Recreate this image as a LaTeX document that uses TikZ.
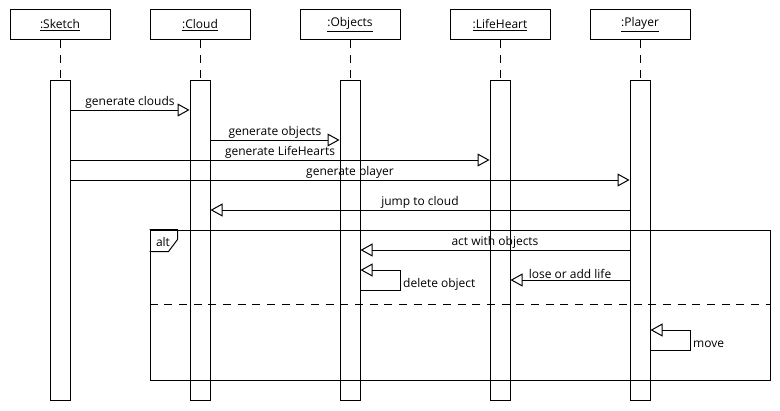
\documentclass[tikz,border=0pt]{standalone}
\usepackage{fontspec}
\setmainfont{Open Sans}
\usetikzlibrary{arrows.meta}

\begin{document}
\begin{tikzpicture}[x=0.75pt,y=-0.75pt,line width=0.75pt,
    font=\fontsize{9}{11}\selectfont,
    head/.style={draw,minimum width=75pt,minimum height=22.5pt,inner sep=0pt},
    bar/.style={draw,minimum width=15pt,minimum height=240pt,inner sep=0pt},
    life/.style={dash pattern=on 6pt off 5pt},
    msg/.style={-{Triangle[open,length=9pt,width=9.75pt]}},
    lbl/.style={midway,above,inner sep=0.5pt}]
    \useasboundingbox (0,0) rectangle (780,410);
    % Objects
    \node[head] (sketch) at (60,25) {\underline{:Sketch}};
    \node[head] (cloud) at (200,25) {\underline{:Cloud}};
    \node[head] (objects) at (350,25) {\underline{:Objects}};
    \node[head] (heart) at (500,25) {\underline{:LifeHeart}};
    \node[head] (player) at (640,25) {\underline{:Player}};
    % Activations
    \node[bar] (sketchbar) at (60,240) {};
    \node[bar] (cloudbar) at (200,240) {};
    \node[bar] (objbar) at (350,240) {};
    \node[bar] (heartbar) at (500,240) {};
    \node[bar] (playerbar) at (640,240) {};
    \foreach \n/\b in {sketch/sketchbar,cloud/cloudbar,objects/objbar,heart/heartbar,player/playerbar}
      \draw[life] (\n) -- (\b);
    % Messages
    \draw[msg] (sketchbar.east |- 0,110) -- node[lbl] {generate clouds} (cloudbar.west |- 0,110);
    \draw[msg] (cloudbar.east |- 0,140) -- node[lbl] {generate objects} (objbar.west |- 0,140);
    \draw[msg] (sketchbar.east |- 0,160) -- node[lbl] {generate LifeHearts} (heartbar.west |- 0,160);
    \draw[msg] (sketchbar.east |- 0,180) -- node[lbl] {generate player} (playerbar.west |- 0,180);
    \draw[msg] (playerbar.west |- 0,210) -- node[lbl] {jump to cloud} (cloudbar.east |- 0,210);
    % alt
    \node[draw,minimum width=465pt,minimum height=112.5pt,inner sep=0pt] (altframe) at (460,305) {};
    \draw (altframe.north west) -- ++(28,0) -- ++(0,10) -- ++(-9,12) -- ++(-19,0);
    \node (alt) at (163,242) {alt};
    \draw[life] (altframe.west |- 0,304) -- (altframe.east |- 0,304);
    \draw[msg] (playerbar.west |- 0,250) -- node[lbl] {act with objects} (objbar.east |- 0,250);
    \draw[msg] (playerbar.west |- 0,280) -- node[lbl] {lose or add life} (heartbar.east |- 0,280);
    \draw[msg] (objbar.east |- 0,290) -- ++(40,0) -- ++(0,-20) -- (objbar.east |- 0,270);
    \node[right,inner sep=2pt] (del) at (400,284) {delete object};
    \draw[msg] (playerbar.east |- 0,350) -- ++(40,0) -- ++(0,-20) -- (playerbar.east |- 0,330);
    \node[right,inner sep=2pt] (move) at (690,344) {move};
\end{tikzpicture}
\end{document}
